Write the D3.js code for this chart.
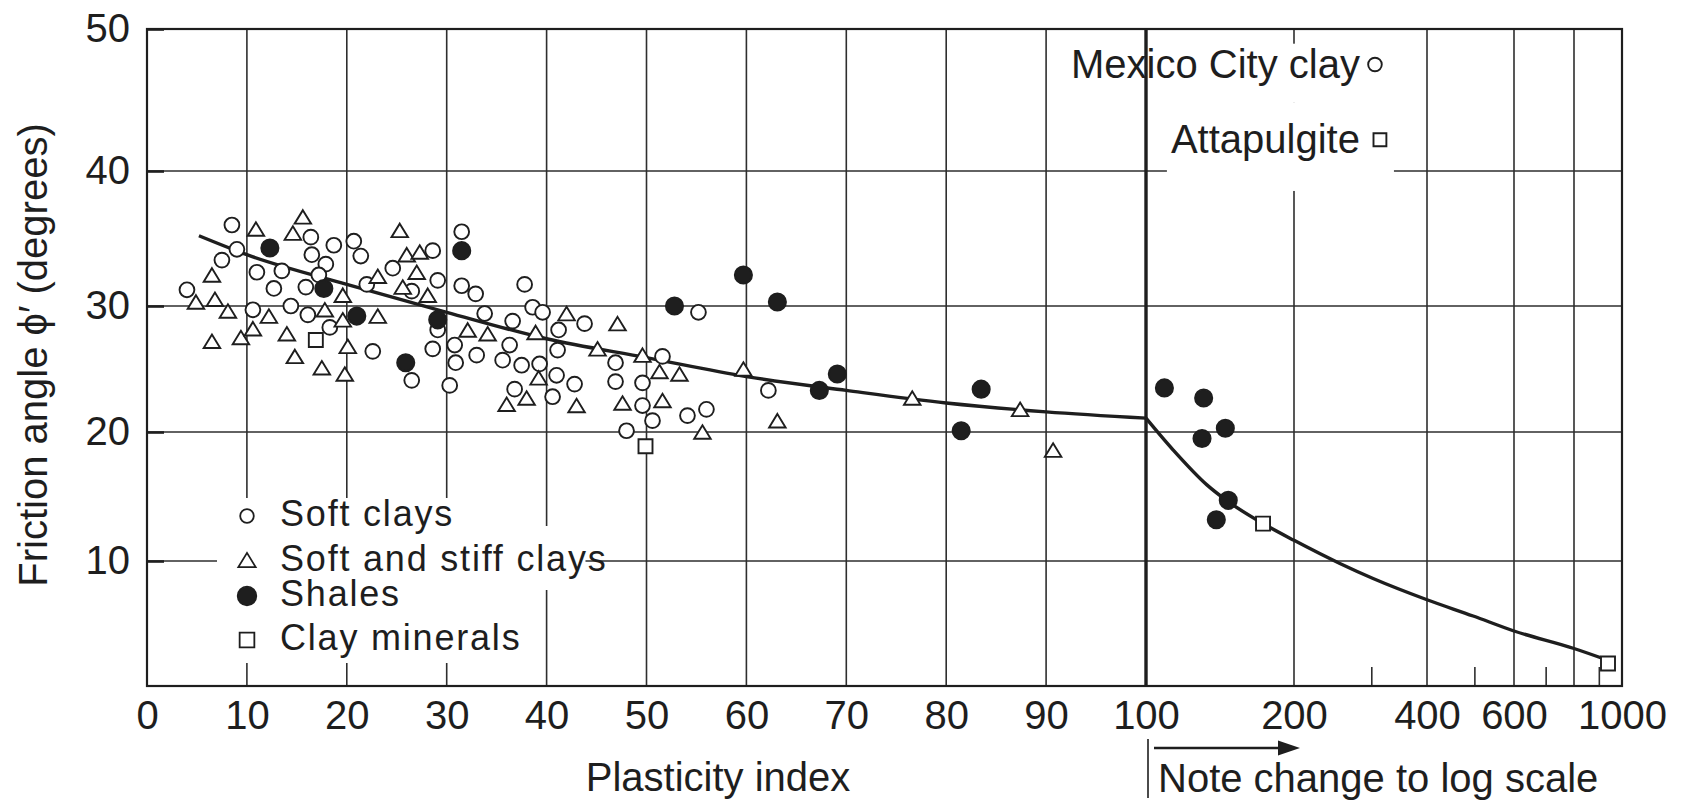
<!DOCTYPE html>
<html>
<head>
<meta charset="utf-8">
<title>Friction angle vs plasticity index</title>
<script src="https://cdn.jsdelivr.net/npm/d3@7"></script>
<style>
  body { margin: 0; background: #fff; }
  svg { display: block; }
</style>
</head>
<body>
<svg id="chart" width="1690" height="808"></svg>
<script>
// [plasticity index, friction angle]
const softClays = [
  [8.5, 36.0], [9.0, 34.2], [7.5, 33.4], [4.0, 31.2], [11.0, 32.5], [12.7, 31.3], [13.5, 32.6],
  [10.6, 29.7], [14.4, 30.0], [16.1, 29.3], [15.9, 31.4], [16.4, 35.1], [16.5, 33.8], [17.9, 33.1],
  [18.7, 34.5], [20.7, 34.8], [21.4, 33.7], [17.2, 32.3], [18.3, 28.3],
  [22.0, 31.6], [24.6, 32.8], [28.6, 34.1], [29.1, 31.9], [26.5, 31.1], [31.5, 35.5], [31.5, 31.5],
  [32.9, 30.9], [33.8, 29.4], [37.8, 31.6], [38.6, 29.9], [39.6, 29.5], [36.6, 28.8], [36.3, 26.9],
  [35.6, 25.7], [37.5, 25.3], [39.3, 25.4], [36.8, 23.4], [22.6, 26.4], [26.5, 24.1], [28.6, 26.6],
  [29.1, 28.1], [30.8, 26.9], [30.9, 25.5], [33.0, 26.1], [30.3, 23.7],
  [43.8, 28.6], [41.2, 28.1], [41.1, 26.5], [41.0, 24.5], [42.8, 23.8], [40.6, 22.8], [46.9, 25.5],
  [46.9, 24.0], [49.6, 23.9], [51.6, 26.0], [49.6, 22.1], [50.6, 20.9], [48.0, 20.1], [54.1, 21.3],
  [56.0, 21.8], [55.2, 29.5], [62.2, 23.3]
];
const stiffClays = [
  [15.6, 36.6], [10.9, 35.7], [14.6, 35.4], [6.5, 32.3], [4.9, 30.3], [6.8, 30.5], [8.1, 29.6],
  [6.5, 27.2], [9.4, 27.5], [10.6, 28.2], [12.2, 29.2], [14.0, 27.8], [14.8, 26.0], [17.5, 25.1],
  [19.8, 24.6], [20.1, 26.8], [19.6, 30.8], [17.8, 29.7], [19.6, 28.9],
  [25.3, 35.6], [26.0, 33.8], [27.3, 34.0], [27.0, 32.5], [23.1, 32.2], [25.6, 31.4], [28.1, 30.8],
  [23.1, 29.2], [32.1, 28.1], [34.1, 27.8], [38.9, 27.9], [39.2, 24.3], [36.0, 22.2], [38.0, 22.7],
  [42.0, 29.4], [47.1, 28.6], [45.1, 26.6], [49.6, 26.1], [51.3, 24.8], [53.3, 24.6], [43.0, 22.1],
  [47.6, 22.3], [51.6, 22.5], [55.6, 20.0],
  [59.7, 25.0], [63.1, 20.9], [76.6, 22.7], [87.4, 21.8], [90.7, 18.6]
];
const shales = [
  [12.3, 34.3], [17.7, 31.3], [21.0, 29.2], [31.5, 34.1], [29.1, 28.9], [25.9, 25.5], [52.8, 30.0],
  [59.7, 32.3], [63.1, 30.3], [67.3, 23.3], [69.1, 24.6], [81.5, 20.1], [83.5, 23.4],
  [109, 23.5], [131, 22.7], [130, 19.5], [145, 20.3], [147, 14.7], [139, 13.2]
];
const clayMinerals = [[16.9, 27.3], [49.9, 18.9], [173, 12.9], [937, 1.8]];

// trend curve, linear part then log part
const trendLinear = [
  [5.2, 35.2], [10, 33.8], [20, 31.6], [30, 29.5], [40, 27.4], [50, 25.9], [60, 24.4],
  [70, 23.3], [80, 22.3], [90, 21.6], [100, 21.1]
];
const trendLog = [
  [100, 21.1], [113.6, 18.6], [133, 15.9], [147, 14.6], [173, 12.9], [200, 11.6], [254, 9.8],
  [302, 8.6], [400, 6.9], [496, 5.6], [600, 4.4], [800, 3.0], [930, 2.1]
];

const annotations = [
  { label: "Mexico City clay", kind: "circle", pi: 305, phi: 47.5 },
  { label: "Attapulgite", kind: "square", pi: 313, phi: 42.2 }
];
const legendItems = [
  { kind: "circle", label: "Soft clays" },
  { kind: "triangle", label: "Soft and stiff clays" },
  { kind: "shale", label: "Shales" },
  { kind: "square", label: "Clay minerals" }
];

const linearTicks = [0, 10, 20, 30, 40, 50, 60, 70, 80, 90, 100];
const logTicks = [200, 400, 600, 1000];
const logGrid = [200, 400, 600, 800];
const logMinor = [300, 500, 700, 900];
const yTicks = [10, 20, 30, 40, 50];

const FONT = '"Liberation Sans", Arial, Helvetica, sans-serif';
const INK = "#1e1e1e";
const plotLeft = 147, plotRight = 1622, plotTop = 29, plotBottom = 686;

const svg = d3.select("#chart");

// the printed axes are not quite evenly spaced, so the scales follow the gridlines
const xLin = d3.scaleLinear().domain([0, 100]).range([plotLeft, 1146]);
const xLog = d3.scaleLog()
  .domain([100, 200, 400, 600, 800, 1000])
  .range([1146, 1294, 1427, 1514, 1574, plotRight]);
const x = v => (v <= 100 ? xLin(v) : xLog(v));
const y = d3.scaleLinear()
  .domain([0, 10, 20, 30, 40, 50])
  .range([plotBottom, 561, 432, 306, 171, plotTop]);

// triangle centred on its bounding box, size = side length
const symbolTri = {
  draw(ctx, s) {
    const h = s * 0.82;
    ctx.moveTo(0, -h / 2);
    ctx.lineTo(s / 2, h / 2);
    ctx.lineTo(-s / 2, h / 2);
    ctx.closePath();
  }
};
const markerSpec = {
  circle: { type: d3.symbolCircle, size: Math.PI * 7.4 * 7.4, fill: "#fff", legend: 0.92 },
  triangle: { type: symbolTri, size: 16.5, fill: "#fff", linear: true, legend: 1.05 },
  shale: { type: d3.symbolCircle, size: Math.PI * 8.6 * 8.6, fill: INK, legend: 1.08 },
  square: { type: d3.symbolSquare, size: 14 * 14, fill: "#fff", legend: 1.05 }
};
function symbolPath(kind, scale) {
  const m = markerSpec[kind];
  const size = m.linear ? m.size * scale : m.size * scale * scale;
  return d3.symbol().type(m.type).size(size)();
}
function drawMarkers(g, data, kind) {
  g.append("g").selectAll("path")
    .data(data)
    .join("path")
    .attr("transform", d => `translate(${x(d[0])},${y(d[1])})`)
    .attr("d", symbolPath(kind, 1))
    .attr("fill", markerSpec[kind].fill)
    .attr("stroke", INK)
    .attr("stroke-width", 1.9);
}

// gridlines
const grid = svg.append("g").attr("stroke", "#2e2e2e").attr("stroke-width", 1.6);
grid.selectAll(".vl")
  .data(linearTicks.slice(1, -1))
  .join("line")
  .attr("x1", d => xLin(d)).attr("x2", d => xLin(d))
  .attr("y1", plotTop).attr("y2", plotBottom);
grid.selectAll(".vg")
  .data(logGrid)
  .join("line")
  .attr("x1", d => xLog(d)).attr("x2", d => xLog(d))
  .attr("y1", plotTop).attr("y2", plotBottom);
grid.selectAll(".vm")
  .data(logMinor)
  .join("line")
  .attr("x1", d => xLog(d)).attr("x2", d => xLog(d))
  .attr("y1", plotBottom - 19).attr("y2", plotBottom);
grid.selectAll(".hl")
  .data(yTicks.slice(0, -1))
  .join("line")
  .attr("x1", plotLeft).attr("x2", plotRight)
  .attr("y1", d => y(d)).attr("y2", d => y(d));

// legend (white knockout behind it)
const legend = svg.append("g")
  .attr("font-family", FONT).attr("font-size", 36).attr("letter-spacing", 1.8).attr("fill", INK);
const markerRows = [516, 560, 596, 640];
const baseRows = [526, 571, 606, 650];
const markerX = 247, textX = 280;
legend.selectAll("path")
  .data(legendItems)
  .join("path")
  .attr("transform", (d, i) => `translate(${markerX},${markerRows[i]})`)
  .attr("d", d => symbolPath(d.kind, markerSpec[d.kind].legend))
  .attr("fill", d => markerSpec[d.kind].fill)
  .attr("stroke", INK)
  .attr("stroke-width", 1.8);
const legendText = legend.selectAll("text")
  .data(legendItems)
  .join("text")
  .attr("x", textX)
  .attr("y", (d, i) => baseRows[i])
  .text(d => d.label);
const boxes = legendText.nodes().map(n => n.getBBox());
const longest = d3.maxIndex(boxes, b => b.width);
const blockRight = d3.max(boxes.filter((b, i) => i !== longest), b => b.x + b.width) + 5;
const knockLeft = markerX - 30;
legend.insert("rect", ":first-child")
  .attr("x", knockLeft).attr("y", 498)
  .attr("width", blockRight - knockLeft)
  .attr("height", markerRows[markerRows.length - 1] + 23 - 498)
  .attr("fill", "#fff");
legend.insert("rect", ":first-child")
  .attr("x", knockLeft).attr("y", markerRows[longest] - 34)
  .attr("width", boxes[longest].x + boxes[longest].width - 22 - knockLeft)
  .attr("height", 64)
  .attr("fill", "#fff");

// heavy line where the scale changes
svg.append("line")
  .attr("x1", xLin(100)).attr("x2", xLin(100))
  .attr("y1", plotTop).attr("y2", plotBottom)
  .attr("stroke", INK).attr("stroke-width", 3.4);

// annotated points top right
const noteGap = [15, 20];
const notes = svg.append("g").attr("font-family", FONT).attr("font-size", 40).attr("fill", INK);
const noteText = notes.selectAll("text")
  .data(annotations)
  .join("text")
  .attr("x", (d, i) => x(d.pi) - noteGap[i])
  .attr("y", d => y(d.phi))
  .attr("dy", "0.33em")
  .attr("text-anchor", "end")
  .text(d => d.label);
const nb = noteText.nodes().map(n => n.getBBox());
const split = (y(annotations[0].phi) + y(annotations[1].phi)) / 2;
notes.insert("rect", ":first-child")
  .attr("x", xLin(100) + 3).attr("y", nb[0].y + 2)
  .attr("width", x(annotations[0].pi) + 14 - (xLin(100) + 3))
  .attr("height", split - (nb[0].y + 2))
  .attr("fill", "#fff");
notes.insert("rect", ":first-child")
  .attr("x", nb[1].x - 4).attr("y", split)
  .attr("width", x(annotations[1].pi) + 14 - (nb[1].x - 4))
  .attr("height", nb[1].y + nb[1].height + 30 - split)
  .attr("fill", "#fff");
notes.selectAll("path")
  .data(annotations)
  .join("path")
  .attr("transform", d => `translate(${x(d.pi)},${y(d.phi)})`)
  .attr("d", d => symbolPath(d.kind, 0.92))
  .attr("fill", "#fff")
  .attr("stroke", INK)
  .attr("stroke-width", 1.9);

// frame
svg.append("rect")
  .attr("x", plotLeft).attr("y", plotTop)
  .attr("width", plotRight - plotLeft).attr("height", plotBottom - plotTop)
  .attr("fill", "none").attr("stroke", INK).attr("stroke-width", 2.2);

// trend curve
const line = d3.line().x(d => x(d[0])).y(d => y(d[1])).curve(d3.curveMonotoneX);
svg.append("g")
  .selectAll("path")
  .data([trendLinear, trendLog])
  .join("path")
  .attr("d", line)
  .attr("fill", "none")
  .attr("stroke", INK)
  .attr("stroke-width", 3.4)
  .attr("stroke-linejoin", "round");

// data points
const pts = svg.append("g");
drawMarkers(pts, softClays, "circle");
drawMarkers(pts, stiffClays, "triangle");
drawMarkers(pts, clayMinerals, "square");
drawMarkers(pts, shales, "shale");

// axes labels
function styleAxis(g) {
  g.select(".domain").remove();
  g.attr("font-family", FONT).attr("font-size", 40).style("color", INK);
}
svg.append("g")
  .attr("transform", `translate(0,${plotBottom})`)
  .call(d3.axisBottom(xLin).tickValues(linearTicks).tickSize(0).tickPadding(15))
  .call(styleAxis);
svg.append("g")
  .attr("transform", `translate(0,${plotBottom})`)
  .call(d3.axisBottom(xLog).tickValues(logTicks).tickSize(0).tickPadding(15).tickFormat(d3.format("d")))
  .call(styleAxis);
svg.append("g")
  .attr("transform", `translate(${plotLeft},0)`)
  .call(d3.axisLeft(y).tickValues(yTicks).tickSize(-17).tickPadding(17))
  .call(styleAxis)
  .call(g => g.selectAll(".tick line").attr("stroke-width", 2.6));

// titles
const titles = svg.append("g").attr("font-family", FONT).attr("font-size", 40).attr("fill", INK);
titles.append("text")
  .attr("x", 718).attr("y", 791)
  .attr("text-anchor", "middle")
  .text("Plasticity index");
titles.append("text")
  .attr("transform", "translate(47,355) rotate(-90)")
  .attr("text-anchor", "middle")
  .text("Friction angle \u03D5\u2032 (degrees)");
titles.append("text")
  .attr("x", xLin(100) + 12).attr("y", 792)
  .text("Note change to log scale");

// arrow marking the start of the log scale
const ax = xLin(100);
svg.append("line")
  .attr("x1", ax + 2).attr("x2", ax + 2)
  .attr("y1", 739).attr("y2", 798)
  .attr("stroke", INK).attr("stroke-width", 1.6);
svg.append("line")
  .attr("x1", ax + 8).attr("x2", ax + 136)
  .attr("y1", 748).attr("y2", 748)
  .attr("stroke", INK).attr("stroke-width", 2.4);
svg.append("path")
  .attr("d", `M${ax + 154},748 L${ax + 132},740.5 L${ax + 132},755.5 Z`)
  .attr("fill", INK);
</script>
</body>
</html>
